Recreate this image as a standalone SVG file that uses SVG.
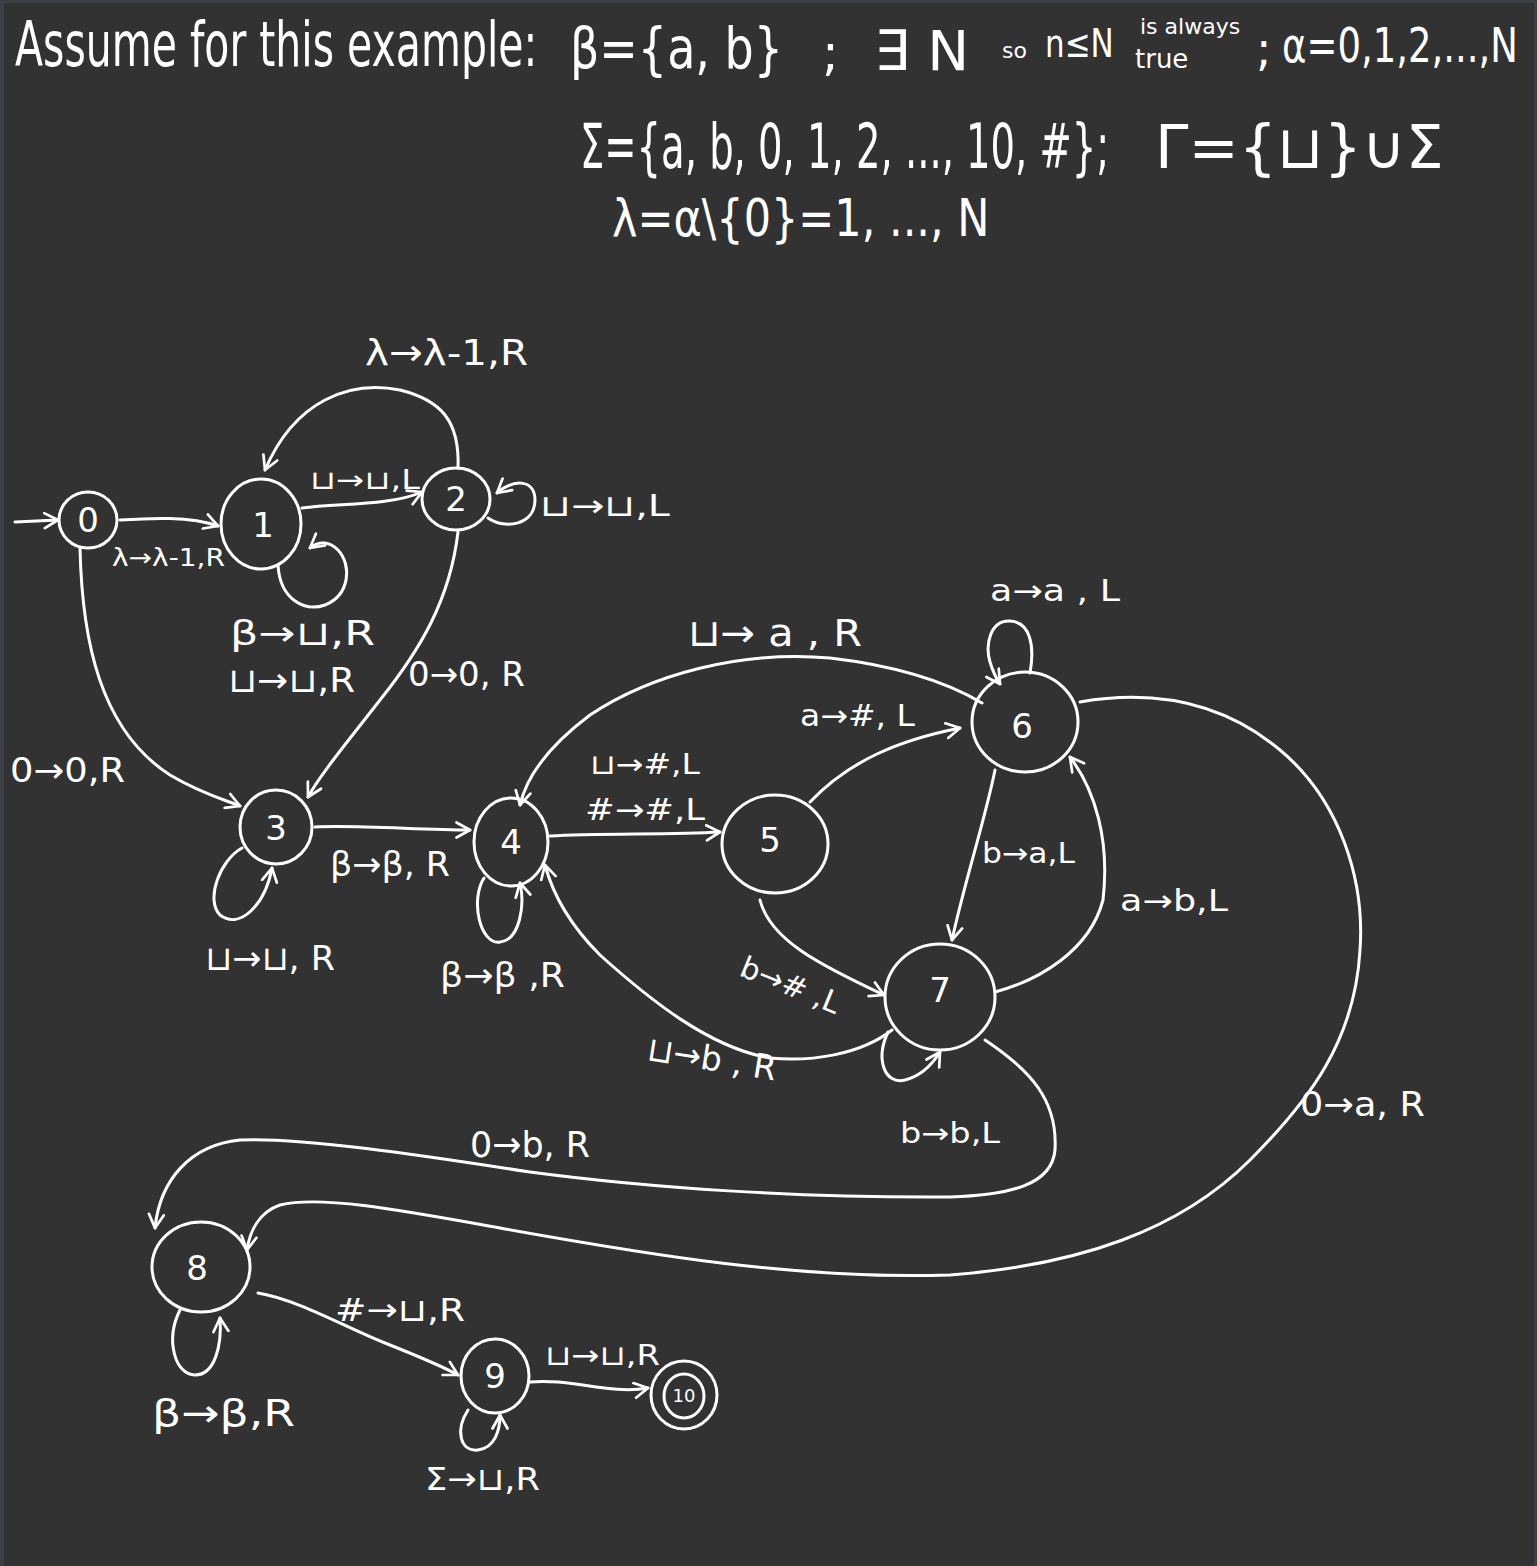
<svg xmlns="http://www.w3.org/2000/svg" width="1537" height="1566" viewBox="0 0 1537 1566">
<defs>
<marker id="arr" viewBox="0 0 12 12" refX="10" refY="6" markerWidth="18" markerHeight="18" markerUnits="userSpaceOnUse" orient="auto">
<path d="M1,1 L10,6 L1,11" fill="none" stroke="#ffffff" stroke-width="1.8" stroke-linecap="round" stroke-linejoin="round"/>
</marker>
<style>
.n{fill:none;stroke:#ffffff;stroke-width:3;}
.e{fill:none;stroke:#ffffff;stroke-width:3;stroke-linecap:round;marker-end:url(#arr);}
.t{fill:#ffffff;font-family:"DejaVu Sans","Liberation Sans",sans-serif;}
.nl{fill:#ffffff;font-family:"DejaVu Sans","Liberation Sans",sans-serif;font-size:34px;text-anchor:middle;}
</style>
</defs>
<rect x="0" y="0" width="1537" height="1566" fill="#3c4044"/>
<rect x="4" y="3" width="1530" height="1563" fill="#323232"/>

<g id="header">
<text class="t" x="0" y="0" font-size="41" transform="translate(15,66) scale(1,1.5)">Assume for this example:</text>
<text class="t" x="0" y="0" font-size="46" transform="translate(570,68) scale(1,1.25)">β={a, b}</text>
<text class="t" x="822" y="70" font-size="50">;</text>
<text class="t" x="874" y="70" font-size="56">∃ N</text>
<text class="t" x="1002" y="58" font-size="22">so</text>
<text class="t" x="0" y="0" font-size="31" transform="translate(1045,57) scale(1,1.25)">n≤N</text>
<text class="t" x="1140" y="34" font-size="22">is always</text>
<text class="t" x="1135" y="68" font-size="26">true</text>
<text class="t" x="1256" y="66" font-size="46">;</text>
<text class="t" x="0" y="0" font-size="37" transform="translate(1282,62) scale(1,1.3)">α=0,1,2,...,N</text>
<text class="t" x="0" y="0" font-size="38.5" transform="translate(580,168) scale(1,1.6)">Σ={a, b, 0, 1, 2, ..., 10, #};</text>
<text class="t" x="1155" y="168" font-size="60">Γ={⊔}∪Σ</text>
<text class="t" x="0" y="0" font-size="43" transform="translate(612,236) scale(1,1.2)">λ=α\{0}=1, ..., N</text>
</g>

<g id="connectors">
<path id="start" class="e" d="M15,522 L58,520"/>
<path id="e0-1" class="e" d="M120,520 C150,518 190,516 218,526"/>
<path id="e1-2" class="e" d="M302,508 C340,503 390,506 422,492"/>
<path id="e2-1" class="e" d="M458,468 C460,420 440,400 400,390 C350,380 295,400 265,470"/>
<path id="e2-2" class="e" d="M488,518 C505,530 535,525 535,500 C535,480 515,478 497,493"/>
<path id="e1-1" class="e" d="M278,565 C280,600 305,612 325,605 C350,595 352,565 338,550 C330,542 320,540 310,548"/>
<path id="e0-3" class="e" d="M80,548 C82,640 100,730 170,775 C200,793 225,800 240,806"/>
<path id="e2-3" class="e" d="M458,532 C450,600 420,650 380,700 C345,745 320,775 308,797"/>
<path id="e3-3" class="e" d="M242,848 C220,860 205,900 220,915 C240,930 265,905 272,868"/>
<path id="e3-4" class="e" d="M315,827 C360,825 420,830 470,830"/>
<path id="e4-4" class="e" d="M484,878 C470,900 480,945 500,942 C520,940 525,905 520,883"/>
<path id="e6-4" class="e" d="M982,703 C940,678 890,665 830,658 C740,650 650,675 590,715 C550,745 527,775 520,805"/>
<path id="e4-5" class="e" d="M550,836 C600,833 670,835 720,832"/>
<path id="e5-6" class="e" d="M810,802 C850,760 900,740 960,728"/>
<path id="e5-7" class="e" d="M760,900 C770,940 820,965 884,995"/>
<path id="e7-4" class="e" d="M892,1030 C860,1055 810,1062 770,1058 C710,1048 650,1000 600,955 C570,925 553,895 545,865"/>
<path id="e6-7" class="e" d="M995,770 C985,820 965,880 952,940"/>
<path id="e7-6" class="e" d="M995,992 C1040,980 1090,950 1103,900 C1110,840 1095,790 1070,757"/>
<path id="e6-6" class="e" d="M1030,673 C1035,645 1030,622 1010,621 C990,620 985,645 990,662 C993,672 996,678 1000,684"/>
<path id="e6-8" class="e" d="M1080,702 C1150,690 1220,700 1280,750 C1340,800 1365,880 1360,950 C1355,1040 1310,1100 1250,1160 C1180,1230 1080,1265 950,1275 C800,1280 650,1255 500,1228 C400,1210 320,1195 280,1205 C260,1212 250,1230 247,1250"/>
<path id="e7-8" class="e" d="M985,1040 C1030,1070 1058,1100 1055,1150 C1052,1185 1010,1195 950,1197 C800,1198 650,1188 530,1172 C420,1155 300,1137 240,1140 C190,1145 160,1180 155,1228"/>
<path id="e7-7" class="e" d="M888,1032 C875,1060 885,1085 905,1080 C925,1075 935,1060 940,1052"/>
<path id="e8-9" class="e" d="M258,1293 C300,1300 350,1330 390,1345 C420,1357 440,1365 458,1375"/>
<path id="e8-8" class="e" d="M180,1310 C165,1340 175,1375 195,1375 C215,1375 222,1345 220,1318"/>
<path id="e9-10" class="e" d="M530,1382 C570,1378 610,1395 648,1388"/>
<path id="e9-9" class="e" d="M468,1410 C455,1430 460,1452 478,1450 C495,1448 500,1430 500,1415"/>
</g>

<g id="labels">
<text class="t" x="365" y="365" font-size="36" textLength="163" lengthAdjust="spacingAndGlyphs">λ→λ-1,R</text>
<text class="t" x="310" y="489" font-size="26" textLength="110" lengthAdjust="spacingAndGlyphs">⊔→⊔,L</text>
<text class="t" x="112" y="566" font-size="24" textLength="113" lengthAdjust="spacingAndGlyphs">λ→λ-1,R</text>
<text class="t" x="540" y="516" font-size="30" textLength="130" lengthAdjust="spacingAndGlyphs">⊔→⊔,L</text>
<text class="t" x="230" y="645" font-size="34" textLength="145" lengthAdjust="spacingAndGlyphs">β→⊔,R</text>
<text class="t" x="228" y="692" font-size="34" textLength="127" lengthAdjust="spacingAndGlyphs">⊔→⊔,R</text>
<text class="t" x="408" y="686" font-size="34" textLength="117" lengthAdjust="spacingAndGlyphs">0→0, R</text>
<text class="t" x="10" y="782" font-size="34" textLength="115" lengthAdjust="spacingAndGlyphs">0→0,R</text>
<text class="t" x="205" y="970" font-size="34" textLength="130" lengthAdjust="spacingAndGlyphs">⊔→⊔, R</text>
<text class="t" x="330" y="876" font-size="34" textLength="120" lengthAdjust="spacingAndGlyphs">β→β, R</text>
<text class="t" x="440" y="987" font-size="34" textLength="125" lengthAdjust="spacingAndGlyphs">β→β ,R</text>
<text class="t" x="688" y="646" font-size="38" textLength="174" lengthAdjust="spacingAndGlyphs">⊔→ a , R</text>
<text class="t" x="800" y="726" font-size="30" textLength="115" lengthAdjust="spacingAndGlyphs">a→#, L</text>
<text class="t" x="590" y="774" font-size="28" textLength="110" lengthAdjust="spacingAndGlyphs">⊔→#,L</text>
<text class="t" x="585" y="820" font-size="30" textLength="120" lengthAdjust="spacingAndGlyphs">#→#,L</text>
<text class="t" x="990" y="601" font-size="30" textLength="130" lengthAdjust="spacingAndGlyphs">a→a , L</text>
<text class="t" x="982" y="863" font-size="28" textLength="93" lengthAdjust="spacingAndGlyphs">b→a,L</text>
<text class="t" x="1120" y="911" font-size="30" textLength="108" lengthAdjust="spacingAndGlyphs">a→b,L</text>
<text class="t" x="0" y="0" font-size="30" textLength="105" lengthAdjust="spacingAndGlyphs" transform="translate(738,975) rotate(22)">b→# ,L</text>
<text class="t" x="0" y="0" font-size="34" textLength="130" lengthAdjust="spacingAndGlyphs" transform="translate(646,1060) rotate(9)">⊔→b , R</text>
<text class="t" x="900" y="1143" font-size="28" textLength="100" lengthAdjust="spacingAndGlyphs">b→b,L</text>
<text class="t" x="470" y="1157" font-size="36" textLength="120" lengthAdjust="spacingAndGlyphs">0→b, R</text>
<text class="t" x="1300" y="1116" font-size="34" textLength="125" lengthAdjust="spacingAndGlyphs">0→a, R</text>
<text class="t" x="335" y="1321" font-size="32" textLength="130" lengthAdjust="spacingAndGlyphs">#→⊔,R</text>
<text class="t" x="152" y="1426" font-size="38" textLength="143" lengthAdjust="spacingAndGlyphs">β→β,R</text>
<text class="t" x="545" y="1365" font-size="28" textLength="115" lengthAdjust="spacingAndGlyphs">⊔→⊔,R</text>
<text class="t" x="425" y="1490" font-size="32" textLength="115" lengthAdjust="spacingAndGlyphs">Σ→⊔,R</text>
</g>

<g id="node0"><ellipse class="n" cx="88" cy="520" rx="29" ry="28"/><text class="nl" x="88" y="532">0</text></g>
<g id="node1"><ellipse class="n" cx="261" cy="524" rx="40" ry="45"/><text class="nl" x="263" y="537">1</text></g>
<g id="node2"><ellipse class="n" cx="456" cy="499" rx="34" ry="31"/><text class="nl" x="456" y="511">2</text></g>
<g id="node3"><ellipse class="n" cx="276" cy="827" rx="36" ry="37"/><text class="nl" x="276" y="840">3</text></g>
<g id="node4"><ellipse class="n" cx="511" cy="842" rx="37" ry="44"/><text class="nl" x="511" y="854">4</text></g>
<g id="node5"><ellipse class="n" cx="775" cy="844" rx="53" ry="49"/><text class="nl" x="770" y="852">5</text></g>
<g id="node6"><ellipse class="n" cx="1025" cy="722" rx="53" ry="50"/><text class="nl" x="1022" y="738">6</text></g>
<g id="node7"><ellipse class="n" cx="940" cy="997" rx="55" ry="53"/><text class="nl" x="940" y="1002">7</text></g>
<g id="node8"><ellipse class="n" cx="201" cy="1267" rx="49" ry="45"/><text class="nl" x="197" y="1280">8</text></g>
<g id="node9"><ellipse class="n" cx="495" cy="1376" rx="34" ry="37"/><text class="nl" x="495" y="1388">9</text></g>
<g id="node10"><ellipse class="n" cx="684" cy="1395" rx="33" ry="34"/><ellipse class="n" cx="684" cy="1396" rx="20" ry="22"/><text class="nl" x="684" y="1402" style="font-size:18px">10</text></g>
</svg>
